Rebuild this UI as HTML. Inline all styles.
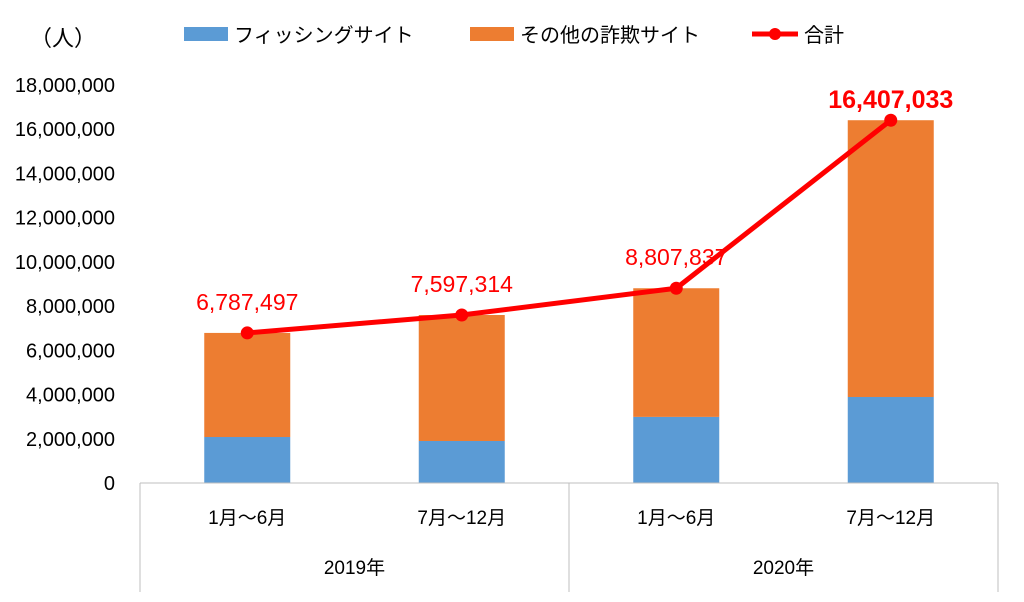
<!DOCTYPE html>
<html><head><meta charset="utf-8"><style>
body{margin:0;background:#fff;}
svg text{font-family:"Liberation Sans","Noto Sans CJK JP",sans-serif;}
</style></head><body>
<svg width="1024" height="597" xmlns="http://www.w3.org/2000/svg">
<g id="legend">
<text x="30" y="46" font-size="22" fill="#000">（人）</text>
<rect x="184" y="27" width="44" height="14" fill="#5B9BD5"/>
<text x="234" y="42" font-size="20" fill="#000">フィッシングサイト</text>
<rect x="470" y="27" width="44" height="14" fill="#ED7D31"/>
<text x="520" y="42" font-size="20" fill="#000">その他の詐欺サイト</text>
<line x1="752" y1="34" x2="798" y2="34" stroke="#FF0000" stroke-width="5"/>
<circle cx="775" cy="34" r="6" fill="#FF0000"/>
<text x="804" y="42" font-size="20" fill="#000">合計</text>
</g>
<g id="plot"></g>
</svg>
<script>
const categories=["1月～6月","7月～12月","1月～6月","7月～12月"];
const years=["2019年","2020年"];
const phishing=[2080000,1900000,2990000,3890000];
const totals=[6787497,7597314,8807837,16407033];
const totalLabels=["6,787,497","7,597,314","8,807,837","16,407,033"];
const yTicks=[0,2000000,4000000,6000000,8000000,10000000,12000000,14000000,16000000,18000000];
const NS="http://www.w3.org/2000/svg";
const g=document.getElementById('plot');
const L=140,R=998,Y0=483,Ytop=85,ymax=18000000;
const y=v=>Y0-(v/ymax)*(Y0-Ytop);
const band=(R-L)/categories.length;
const xc=i=>L+band*(i+0.5);
const bw=86;
function mk(t,a){const e=document.createElementNS(NS,t);for(const k in a)e.setAttribute(k,a[k]);g.appendChild(e);return e;}
yTicks.forEach(v=>{
 const t=mk('text',{x:115,y:y(v)+7,'font-size':20,'text-anchor':'end',fill:'#000'});
 
 
 t.textContent=v.toLocaleString('en-US');
});
categories.forEach((c,i)=>{
 const other=totals[i]-phishing[i];
 const b=mk('rect',{x:xc(i)-bw/2,y:y(phishing[i]),width:bw,height:Y0-y(phishing[i]),fill:'#5B9BD5'});
 
 
 const o=mk('rect',{x:xc(i)-bw/2,y:y(totals[i]),width:bw,height:y(phishing[i])-y(totals[i]),fill:'#ED7D31'});
 
 
 const t=mk('text',{x:xc(i),y:524,'font-size':19,'text-anchor':'middle',fill:'#000'});
 
 
 t.textContent=c;
});
const ax=mk('line',{x1:L,y1:Y0,x2:R,y2:Y0,stroke:'#BFBFBF','stroke-width':1});


[L,(L+R)/2,R].forEach(xx=>{
 const l=mk('line',{x1:xx,y1:Y0,x2:xx,y2:592,stroke:'#BFBFBF','stroke-width':1});
 
 
});
years.forEach((yr,j)=>{
 const t=mk('text',{x:L+(R-L)/4*(2*j+1),y:574,'font-size':19,'text-anchor':'middle',fill:'#000'});
 
 
 t.textContent=yr;
});
const pts=totals.map((v,i)=>xc(i)+','+y(v)).join(' ');
const pl=mk('polyline',{points:pts,fill:'none',stroke:'#FF0000','stroke-width':5,'stroke-linejoin':'round'});


totals.forEach((v,i)=>{
 const c=mk('circle',{cx:xc(i),cy:y(v),r:6.5,fill:'#FF0000'});
 
 
 const last=i===totals.length-1;
 const t=mk('text',{x:xc(i),y:y(v)-(last?12:23),'font-size':last?25:23,'font-weight':last?'bold':'normal','text-anchor':'middle',fill:'#FF0000'});
 
 
 t.textContent=totalLabels[i];
});
</script>
</body></html>
